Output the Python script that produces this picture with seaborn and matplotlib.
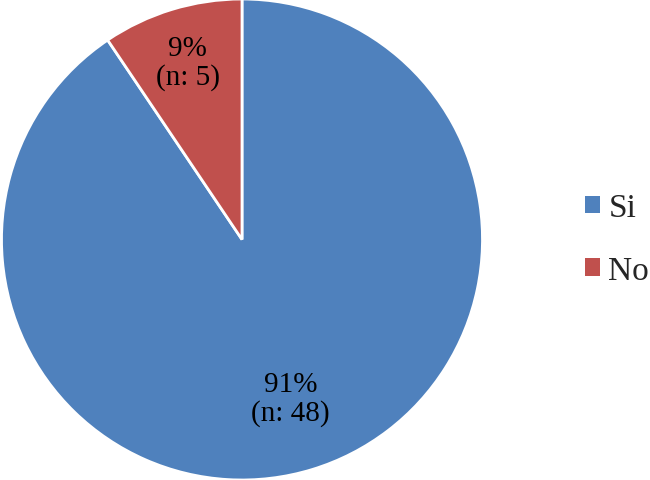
import numpy as np
import matplotlib
matplotlib.use("Agg")
import matplotlib.pyplot as plt
import seaborn as sns
from matplotlib.patches import Patch

labels = ["Si", "No"]
counts = [48, 5]
colors = ["#4F81BD", "#C0504D"]
label_radius = [0.69, 0.77]

sns.set_theme(style="white")
plt.rcParams["font.family"] = ["Liberation Serif", "DejaVu Serif"]

fig = plt.figure(figsize=(6.5, 4.81), dpi=100)
ax = fig.add_axes([1 / 650, 0, 482 / 650, 1])

wedges, _ = ax.pie(counts, colors=colors, startangle=90, counterclock=False,
                   wedgeprops=dict(edgecolor="white", linewidth=2))
ax.set_aspect("equal")
ax.set_xlim(-1.0, 1.0)
ax.set_ylim(-1.0, 1.0)

total = sum(counts)
for w, n, r in zip(wedges, counts, label_radius):
    ang = np.deg2rad((w.theta1 + w.theta2) / 2)
    x, y = r * np.cos(ang), r * np.sin(ang)
    pct = round(100 * n / total)
    ax.text(x, y, f"{pct}%\n(n: {n})", ha="center", va="center",
            fontsize=21, linespacing=1.1, color="black")

handles = [Patch(facecolor=c, edgecolor="none") for c in colors]
fig.legend(handles, labels, loc="center left", bbox_to_anchor=(585 / 650, 0.5),
           frameon=False, fontsize=24, handlelength=0.45, handleheight=0.45,
           handletextpad=0.25, labelspacing=0.97, borderaxespad=0,
           borderpad=0)

fig.savefig("out.png", dpi=100)
